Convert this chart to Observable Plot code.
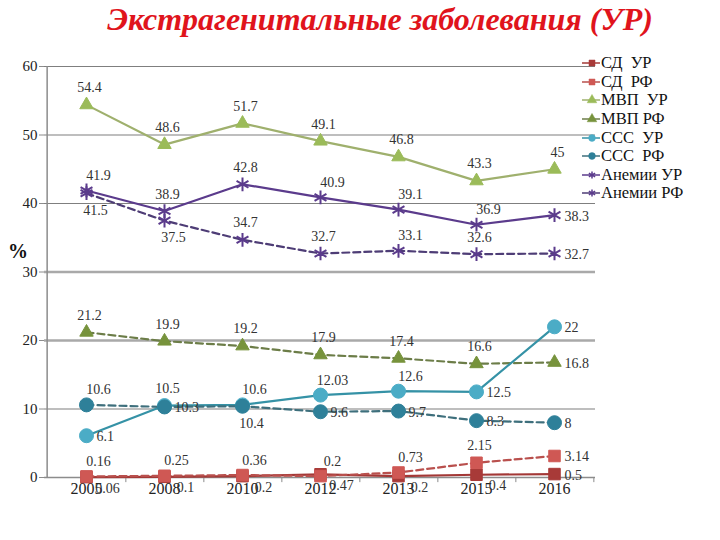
<!DOCTYPE html>
<html><head><meta charset="utf-8">
<script src="https://cdn.jsdelivr.net/npm/d3@7"></script>
<script src="https://cdn.jsdelivr.net/npm/@observablehq/plot@0.6"></script>
<style>
html, body, div, span, svg, text, tspan, g {font-family:'Liberation Serif', 'Times New Roman', serif !important;}
body{margin:0;background:#fff;}
#wrap{position:relative;width:720px;height:540px;background:#fff}
#title{position:absolute;left:0;top:1px;width:720px;padding-left:40px;box-sizing:border-box;text-align:center;font-weight:bold;font-style:italic;font-size:32px;color:#e0141c;white-space:nowrap}
#chart{position:absolute;left:0;top:44px}
#pct{position:absolute;left:8px;top:240px;font-weight:bold;font-size:20px;color:#111}
#legend{position:absolute;left:582px;top:54px;font-size:16.5px;color:#111}
#legend .it{display:flex;align-items:center;height:18.6px;white-space:pre}
#legend svg{margin-right:1px}
</style></head>
<body><div id="wrap"><div id="title"></div><div id="chart"></div><div id="pct">%</div><div id="legend"></div></div>
<script>
// ---- data ----
const titleText = "Экстрагенитальные заболевания (УР)";
const years = ["2005", "2008", "2010", "2012", "2013", "2015", "2016"];
const seriesNames = ["СД  УР", "СД  РФ", "МВП  УР", "МВП РФ", "ССС  УР", "ССС  РФ", "Анемии УР", "Анемии РФ"];
const sdUR   = [0.06, 0.1, 0.2, 0.47, 0.2, 0.4, 0.5];
const sdRF   = [0.16, 0.25, 0.36, 0.2, 0.73, 2.15, 3.14];
const mvpUR  = [54.4, 48.6, 51.7, 49.1, 46.8, 43.3, 45];
const mvpRF  = [21.2, 19.9, 19.2, 17.9, 17.4, 16.6, 16.8];
const cccUR  = [6.1, 10.5, 10.6, 12.03, 12.6, 12.5, 22];
const cccRF  = [10.6, 10.3, 10.4, 9.6, 9.7, 8.3, 8];
const anUR   = [41.9, 38.9, 42.8, 40.9, 39.1, 36.9, 38.3];
const anRF   = [41.5, 37.5, 34.7, 32.7, 33.1, 32.6, 32.7];
const yTicks = [0, 10, 20, 30, 40, 50, 60];

// ---- styles ----
const FONT = "'Liberation Serif', 'Times New Roman', serif";
const styles = [
  {values: sdUR,  line: "#a33836", mark: "#a83a38", dash: null,  symbol: "square",   r: 6.5, fill: true,  place: ["br","br","br","br","br","br","r"]},
  {values: sdRF,  line: "#b9504d", mark: "#cf5854", dash: "7,4", symbol: "square",   r: 6.5, fill: true,  place: ["tr","tr","tr","tr","tr","t","r"]},
  {values: mvpUR, line: "#9fb06d", mark: "#9bbb59", dash: null,  symbol: "triangle", r: 5,   fill: true,  place: ["t","t","t","t","t","t","t"]},
  {values: mvpRF, line: "#6c7d48", mark: "#77933c", dash: "7,4", symbol: "triangle", r: 5,   fill: true,  place: ["t","t","t","t","t","t","r"]},
  {values: cccUR, line: "#3592a6", mark: "#4bacc6", dash: null,  symbol: "circle",   r: 7,   fill: true,  place: ["r","t","tr","tr","tr","r","r"]},
  {values: cccRF, line: "#3e6f7c", mark: "#2e8099", dash: "7,4", symbol: "circle",   r: 7,   fill: true,  place: ["tr","r","b","r","r","r","r"]},
  {values: anUR,  line: "#5b3b8c", mark: "#5b3b8c", dash: null,  symbol: "asterisk", r: 6.5, fill: false, place: ["tr","t","t","tr","tr","tr","r"]},
  {values: anRF,  line: "#4e3d76", mark: "#5b3b8c", dash: "7,4", symbol: "asterisk", r: 6.5, fill: false, place: ["b","b","t","t","tr","t","r"]}
];
const placeOpts = {
  t:  {dx: 3,  dy: -17, textAnchor: "middle"},
  tr: {dx: 12, dy: -15, textAnchor: "middle"},
  b:  {dx: 9,  dy: 17,  textAnchor: "middle"},
  br: {dx: 21, dy: 11,  textAnchor: "middle"},
  r:  {dx: 10, dy: 1,   textAnchor: "start"}
};

const titleEl = document.getElementById("title");
titleEl.textContent = titleText;
titleEl.style.setProperty("font-family", FONT, "important");

const W = 720, H = 496, ML = 44, MR = 125, MT = 22, MB = 63, PAD = 0.5;
const step = (W - ML - MR) / (years.length - 1 + 2 * PAD);

const rows = [];
styles.forEach((s, si) => s.values.forEach((v, i) => rows.push({si, year: years[i], value: v, place: s.place[i]})));

const marks = [
  Plot.ruleY([10, 40, 50, 60], {stroke: "#7f7f7f", strokeWidth: 1.2}),
  Plot.ruleY([20, 30], {stroke: "#a9a9a9", strokeWidth: 2.6}),
  Plot.ruleY([0], {stroke: "#8c8c8c", strokeWidth: 1.5}),
  Plot.ruleX([years[0]], {dx: -step * PAD, y1: 0, y2: 60, stroke: "#8c8c8c", strokeWidth: 1.5}),
  Plot.ruleX(years, {x: d => d, dx: step / 2, y1: 0, y2: -0.75, stroke: "#8c8c8c", strokeWidth: 1}),
  Plot.axisY({ticks: yTicks, tickSize: 5, tickPadding: 2, fontSize: 15, stroke: "#8c8c8c", color: "#222", label: null, fontFamily: FONT}),
  Plot.axisX({tickSize: 0, tickPadding: 5, fontSize: 16, color: "#222", label: null, fontFamily: FONT})
];
styles.forEach((s, si) => {
  const data = rows.filter(d => d.si === si);
  marks.push(Plot.line(data, {x: "year", y: "value", stroke: s.line, strokeWidth: 2.2, strokeDasharray: s.dash || undefined}));
});
styles.forEach((s, si) => {
  const data = rows.filter(d => d.si === si);
  marks.push(Plot.dot(data, {x: "year", y: "value", symbol: () => s.symbol, r: s.r,
    fill: s.fill ? s.mark : "none", stroke: s.mark, strokeWidth: s.fill ? 1 : 2}));
});
Object.entries(placeOpts).forEach(([k, o]) => {
  marks.push(Plot.text(rows.filter(d => d.place === k), {x: "year", y: "value", text: d => String(d.value),
    fontSize: 14, fill: "#333", fontFamily: FONT, ...o}));
});

const chart = Plot.plot({
  width: W, height: H, marginLeft: ML, marginRight: MR, marginTop: MT, marginBottom: MB,
  style: {background: "transparent", fontFamily: FONT},
  x: {type: "point", domain: years, padding: PAD, axis: null},
  y: {domain: [0, 60], axis: null},
  symbol: {type: "identity"},
  marks
});
chart.setAttribute("font-family", FONT);
chart.querySelectorAll("g, text").forEach(el => {
  el.setAttribute("font-family", FONT);
  el.style.setProperty("font-family", FONT, "important");
});
document.getElementById("chart").appendChild(chart);

// legend
const leg = document.getElementById("legend");
styles.forEach((s, si) => {
  const it = document.createElement("div");
  it.className = "it";
  const sym = d3.symbol(d3["symbol" + s.symbol[0].toUpperCase() + s.symbol.slice(1)], s.symbol === "triangle" ? 40 : 36)();
  it.innerHTML = '<svg width="18" height="14" viewBox="0 0 18 14"><line x1="0" x2="18" y1="7" y2="7" stroke="' + s.line + '" stroke-width="1.5"/>' +
    '<path transform="translate(10,7)" d="' + sym + '" fill="' + (s.fill ? s.mark : "none") + '" stroke="' + s.mark + '" stroke-width="' + (s.fill ? 0.5 : 1.5) + '"/></svg>';
  const t = document.createElement("span");
  t.textContent = seriesNames[si];
  t.style.setProperty("font-family", FONT, "important");
  it.appendChild(t);
  leg.appendChild(it);
});
</script></body></html>
